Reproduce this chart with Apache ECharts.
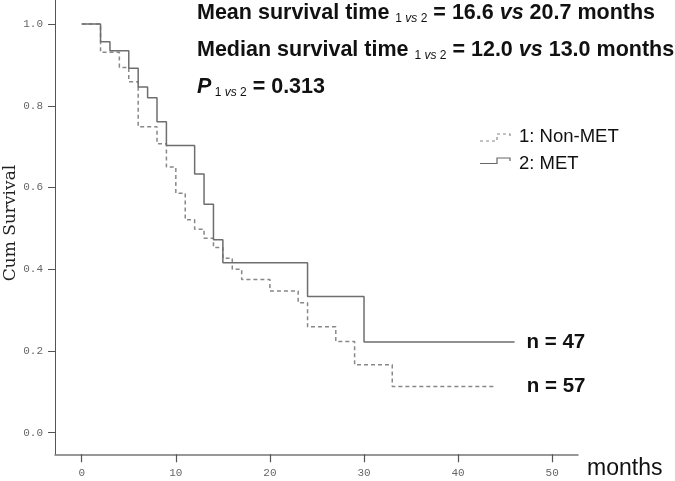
<!DOCTYPE html>
<html>
<head>
<meta charset="utf-8">
<script src="https://cdn.jsdelivr.net/npm/echarts@6/dist/echarts.min.js"></script>
<style>
html,body{margin:0;padding:0;background:#fff;}
#chart{width:675px;height:481px;}
</style>
</head>
<body>
<div id="chart"></div>
<script>
// ---- data ----
const monthsMET = [0, 2, 3, 5, 6, 7, 8, 9, 12, 13, 14, 15, 24, 30, 46];
const survMET = [1.0, 0.957, 0.935, 0.892, 0.846, 0.82, 0.761, 0.703, 0.633, 0.559, 0.472, 0.416, 0.333, 0.222, 0.222];
const monthsNonMET = [0, 2, 4, 5, 6, 8, 9, 10, 11, 12, 13, 14, 15, 16, 17, 20, 23, 24, 27, 29, 33, 44];
const survNonMET = [1.0, 0.931, 0.894, 0.859, 0.749, 0.707, 0.65, 0.586, 0.521, 0.498, 0.476, 0.453, 0.427, 0.40, 0.375, 0.347, 0.318, 0.259, 0.223, 0.166, 0.113, 0.113];
const xTicks = [0, 10, 20, 30, 40, 50];
const yTicks = [0.0, 0.2, 0.4, 0.6, 0.8, 1.0];
const seriesNames = ['1: Non-MET', '2: MET'];
const nLabels = ['n = 57', 'n = 47'];
const yTitle = 'Cum Survival';
const statLines = [
  ['Mean survival time ', '16.6', '20.7'],
  ['Median survival time ', '12.0', '13.0']
];
const pValue = '0.313';

const zip = (a, b) => a.map((v, i) => [v, b[i]]);

const chart = echarts.init(document.getElementById('chart'));
const sans = 'Liberation Sans, Arial, sans-serif';
const mono = 'Liberation Mono, DejaVu Sans Mono, monospace';

const rich = {
  b: {fontFamily: sans, fontWeight: 'bold', fontSize: 21.5, lineHeight: 24, fill: '#111'},
  bi: {fontFamily: sans, fontWeight: 'bold', fontStyle: 'italic', fontSize: 21.5, lineHeight: 24, fill: '#111'},
  s: {fontFamily: sans, fontSize: 12, lineHeight: 13, verticalAlign: 'bottom', fill: '#111'},
  si: {fontFamily: sans, fontStyle: 'italic', fontSize: 12, lineHeight: 13, verticalAlign: 'bottom', fill: '#111'}
};
const sub = '{s|1 }{si|vs}{s| 2}';

const graphics = [];
statLines.forEach((l, i) => {
  graphics.push({
    type: 'text', x: 197, y: 13 + i * 37,
    style: {text: '{b|' + l[0] + '}' + sub + '{b| = ' + l[1] + ' }{bi|vs}{b| ' + l[2] + ' months}', rich: rich, verticalAlign: 'middle', align: 'left'}
  });
});
graphics.push({
  type: 'text', x: 197, y: 87,
  style: {text: '{bi|P}{s| }' + sub + '{b| = ' + pValue + '}', rich: rich, verticalAlign: 'middle', align: 'left'}
});
// y-axis title
graphics.push({
  type: 'text', x: 11, y: 223, rotation: Math.PI / 2,
  style: {text: yTitle, fontFamily: 'DejaVu Serif, Liberation Serif, serif', fontSize: 17, fill: '#222', align: 'center', verticalAlign: 'middle'}
});
// legend
graphics.push({type: 'polyline', shape: {points: [[480, 141], [497, 141], [497, 134], [510, 134], [510, 137]]},
  style: {stroke: '#888', lineWidth: 1.2, lineDash: [3, 3], fill: null}});
graphics.push({type: 'polyline', shape: {points: [[480, 163.5], [497, 163.5], [497, 158], [510, 158], [510, 161]]},
  style: {stroke: '#666', lineWidth: 1.2, fill: null}});
seriesNames.forEach((n, i) => {
  graphics.push({type: 'text', x: 519, y: 137 + i * 26.5,
    style: {text: n, fontFamily: sans, fontSize: 18.5, fill: '#111', verticalAlign: 'middle', align: 'left'}});
});

const option = {
  animation: false,
  backgroundColor: '#fff',
  grid: {left: 55, right: 97, top: 0, bottom: 26.7, containLabel: false, outerBoundsMode: 'none'},
  xAxis: {
    type: 'value', min: -2.84, max: 52.74,
    axisLine: {show: true, onZero: false, lineStyle: {color: '#777', width: 1.5}},
    axisTick: {show: true, customValues: xTicks, length: 8, lineStyle: {color: '#555', width: 1.2}},
    axisLabel: {customValues: xTicks, margin: 13, color: '#666', fontFamily: mono, fontSize: 11},
    splitLine: {show: false},
    name: 'months', nameLocation: 'end', nameGap: 9,
    nameTextStyle: {fontFamily: sans, fontSize: 23, color: '#111', verticalAlign: 'top', padding: [3, 0, 0, 0]}
  },
  yAxis: {
    type: 'value', min: -0.053, max: 1.059,
    axisLine: {show: true, onZero: false, lineStyle: {color: '#555', width: 1}},
    axisTick: {show: true, customValues: yTicks, length: 7, lineStyle: {color: '#555'}},
    axisLabel: {customValues: yTicks, formatter: v => v.toFixed(1), margin: 12, color: '#666', fontFamily: mono, fontSize: 11},
    splitLine: {show: false}
  },
  series: [
    {
      type: 'line', name: seriesNames[0], step: 'end', symbol: 'none',
      data: zip(monthsNonMET, survNonMET),
      lineStyle: {color: '#888', width: 1.5, type: [4, 3]},
      endLabel: {show: true, formatter: nLabels[0], distance: 31, fontFamily: sans, fontWeight: 'bold', fontSize: 20.5, color: '#111'}
    },
    {
      type: 'line', name: seriesNames[1], step: 'end', symbol: 'none',
      data: zip(monthsMET, survMET),
      lineStyle: {color: '#6e6e6e', width: 1.5},
      endLabel: {show: true, formatter: nLabels[1], distance: 12, fontFamily: sans, fontWeight: 'bold', fontSize: 20.5, color: '#111'}
    }
  ],
  graphic: graphics
};
chart.setOption(option);
</script>
</body>
</html>
